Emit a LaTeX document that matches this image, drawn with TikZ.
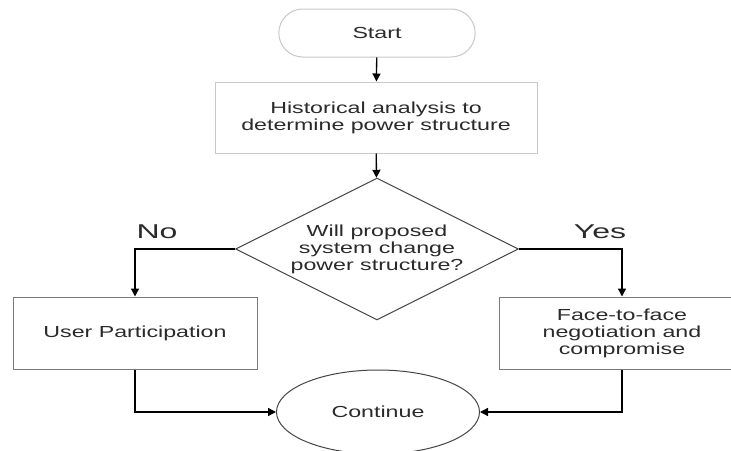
\documentclass[tikz,border=0pt]{standalone}
\usepackage{fontspec}
\setmainfont{Liberation Sans}[FakeStretch=1.45]
\newfontfamily\answerfont{Liberation Sans}[FakeStretch=1.6]
\usetikzlibrary{shapes.geometric,shapes.misc,arrows.meta}

\definecolor{textgray}{HTML}{2A2A2A}
\definecolor{lightedge}{HTML}{C8C8C8}
\definecolor{midedge}{HTML}{7A7A7A}
\definecolor{darkedge}{HTML}{444444}

\tikzset{
  flowbox/.style={draw=#1, rectangle, line width=1pt, align=center, text=textgray},
  flowline/.style={-{Triangle[length=8pt,width=8pt]}, line width=1.3pt, black},
}

\begin{document}
\begin{tikzpicture}[x=1pt, y=-1pt, font=\fontsize{16}{17}\selectfont]
    \clip (0,0) rectangle (731,450);
    \useasboundingbox (0,0) rectangle (731,450);

    \node[flowbox=lightedge, rounded rectangle, minimum width=203pt, minimum height=48pt] (start) at (377,33) {Start};
    \node[flowbox=lightedge, minimum width=322pt, minimum height=71pt] (history) at (376,117.5) {Historical analysis to\\determine power structure};
    \node[flowbox=darkedge, diamond, aspect=2, inner sep=0pt, minimum width=283pt, minimum height=142pt] (decide) at (377,249) {Will proposed\\system change\\power structure?};
    \node[flowbox=midedge, minimum width=244pt, minimum height=72pt] (users) at (135,333) {User Participation};
    \node[flowbox=midedge, minimum width=246pt, minimum height=72pt] (talks) at (622,333) {Face-to-face\\negotiation and\\compromise};
    \node[flowbox=darkedge, ellipse, inner sep=0pt, minimum width=203pt, minimum height=84pt] (continue) at (378,412) {Continue};

    \node[font=\answerfont\fontsize{20}{22}\selectfont, text=textgray] (no)  at (157,232) {No};
    \node[font=\answerfont\fontsize{20}{22}\selectfont, text=textgray] (yes) at (600,232) {Yes};

    \draw[flowline] (start)   to (history);
    \draw[flowline] (history) to (decide);
    \draw[flowline] (decide.west) -| (users.north);
    \draw[flowline] (decide.east) -| (talks.north);
    \draw[flowline] (users.south) |- (continue.west);
    \draw[flowline] (talks.south) |- (continue.east);
\end{tikzpicture}
\end{document}
